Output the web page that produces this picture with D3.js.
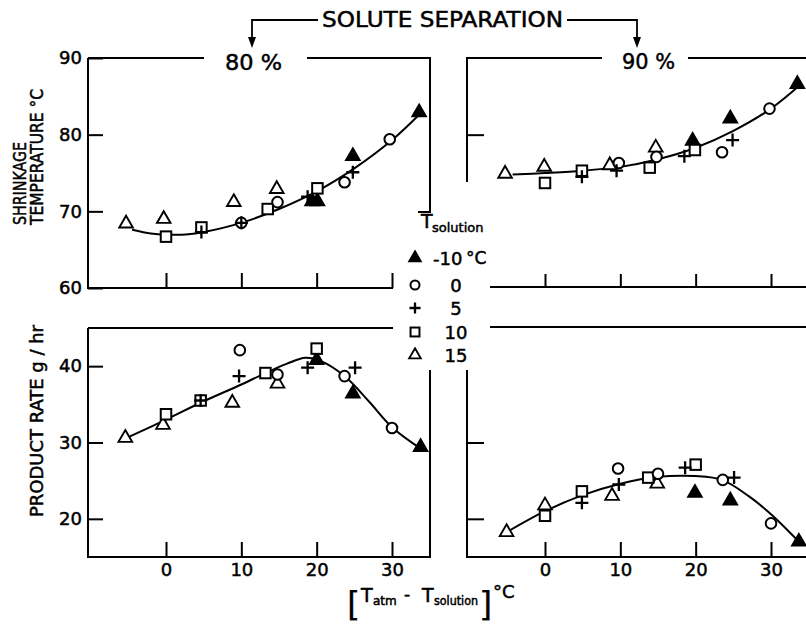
<!DOCTYPE html>
<html><head><meta charset="utf-8">
<script src="https://cdn.jsdelivr.net/npm/d3@7"></script>
<style>
body{margin:0;background:#fff}
svg{display:block;background:#fff}
text{font-family:"DejaVu Sans",sans-serif;fill:#000;stroke:#000;stroke-width:0.5px}
</style>
</head><body>
<svg id="chart" width="806" height="627"></svg>
<script>
// ---------- data ----------
const xTicks = [0, 10, 20, 30];
const shrinkTicks = [60, 70, 80, 90];
const rateTicks = [20, 30, 40];
const legendKeys = ["-10", "0", "5", "10", "15"];
const legendLabels = ["-10", "0", "5", "10", "15"];
const panelTitles = ["80 %", "90 %"];

// [T_solution, T_atm - T_solution, value]
const shrink80 = [
  ["15",-5.3,68.4],["15",-0.3,69.0],["10",0,66.7],["10",4.7,67.9],["5",4.7,67.3],
  ["15",9.0,71.2],["0",10,68.5],["5",10,68.5],["10",13.5,70.3],["15",14.7,72.9],
  ["0",14.8,71.2],["5",18.8,71.9],["-10",19.4,71.3],["-10",20.1,71.3],["10",20.1,73.0],
  ["0",23.7,73.8],["5",24.8,75.1],["-10",24.8,77.2],["0",29.7,79.4],["-10",33.6,82.9]
];
const shrink80Curve = [[-4.5,67.6],[-2,67.1],[0,66.95],[3,67.0],[5,67.3],[10,68.5],[15,70.3],[20,72.6],[25,75.6],[30,79.3],[34,83.0]];

const shrink90 = [
  ["15",-5.3,74.9],["15",-0.1,75.8],["10",0,73.7],["10",4.9,75.3],["5",4.9,74.5],
  ["15",8.6,76.0],["0",9.8,76.3],["5",9.5,75.3],["10",13.9,75.7],["15",14.7,78.3],
  ["0",14.8,77.1],["5",18.5,77.2],["-10",19.6,79.2],["10",19.9,78.0],["0",23.5,77.7],
  ["5",24.9,79.3],["-10",24.6,82.1],["0",29.8,83.4],["-10",33.5,86.6]
];
const shrink90Curve = [[-4.3,74.8],[0,75.0],[5,75.3],[10,75.8],[15,76.8],[20,78.3],[25,80.5],[30,83.4],[34,86.6]];

const rate80 = [
  ["15",-5.4,30.6],["15",-0.4,32.3],["10",0,33.7],["10",4.6,35.5],["5",4.6,35.5],
  ["15",8.8,35.2],["0",9.8,42.1],["5",9.7,38.7],["10",13.2,39.1],["0",14.8,38.9],
  ["15",14.8,37.7],["5",18.8,39.8],["10",20,42.3],["-10",20,40.8],["0",23.7,38.7],
  ["5",25.1,39.8],["-10",24.8,36.4],["0",30,31.9],["-10",33.8,29.4]
];
const rate80Curve = [[-5,30.7],[0,33.0],[5,35.4],[10,37.6],[13,39.0],[16,40.3],[18.5,41.1],[20.5,40.7],[23.7,38.7],[27,35.3],[30,32.0],[33.8,29.2]];

const rate90 = [
  ["15",-5.1,18.25],["15",0,21.75],["10",0,20.4],["10",4.9,23.6],["5",4.9,22.1],
  ["15",8.9,23.0],["0",9.7,26.6],["5",9.8,24.5],["10",13.7,25.4],["0",15,25.9],
  ["15",14.9,24.6],["5",18.6,26.7],["10",20,27.1],["-10",19.9,23.4],["0",23.6,25.1],
  ["5",25.1,25.4],["-10",24.6,22.4],["0",30,19.4],["-10",33.7,17.0]
];
const rate90Curve = [[-5,18.3],[0,21.0],[5,23.1],[10,24.6],[15,25.5],[20,25.6],[23.5,25.1],[27,23.0],[30,20.6],[33.7,17.0]];

// ---------- scales ----------
const svg = d3.select("#chart");
const xL = d3.scaleLinear().domain([0, 30]).range([166, 392]);
const xR = d3.scaleLinear().domain([0, 30]).range([545, 771]);
const yTop = d3.scaleLinear().domain([60, 90]).range([288, 58]);
const yBot = d3.scaleLinear().domain([15, 45]).range([557, 328]);

const ink = "#000";
const SW = 2;

// ---------- frames ----------
const frame = svg.append("g").attr("fill", "none").attr("stroke", ink).attr("stroke-width", SW);
[
  "M88,58V288H393", "M88,58H204", "M307,58H430V213", "M418,212H430",
  "M467,182V58H602", "M688,58H806", "M490,287H806",
  "M88,328H393", "M88,328V557H430V370",
  "M490,327H806", "M467,370V557H806"
].forEach(d => frame.append("path").attr("d", d));

// ---------- axes ----------
function styleAxis(g, fs) {
  g.attr("font-family", null).attr("font-size", null);
  g.select(".domain").remove();
  g.selectAll(".tick line").attr("stroke", ink).attr("stroke-width", SW);
  g.selectAll(".tick text").style("font-size", fs + "px").attr("fill", ink);
}
svg.append("g").attr("transform", "translate(88,0)")
  .call(d3.axisLeft(yTop).tickValues(shrinkTicks).tickSize(-15).tickPadding(6))
  .call(g => styleAxis(g, 18));
svg.append("g").attr("transform", "translate(88,0)")
  .call(d3.axisLeft(yBot).tickValues(rateTicks).tickSize(-15).tickPadding(6))
  .call(g => styleAxis(g, 18));
svg.append("g").attr("transform", "translate(467,0)")
  .call(d3.axisLeft(yTop).tickValues([80]).tickSize(-17).tickFormat(""))
  .call(g => styleAxis(g, 18));
svg.append("g").attr("transform", "translate(467,0)")
  .call(d3.axisLeft(yBot).tickValues([20, 30]).tickSize(-17).tickFormat(""))
  .call(g => styleAxis(g, 18));
svg.append("g").attr("transform", "translate(0,288)")
  .call(d3.axisBottom(xL).tickValues(xTicks).tickSize(-15).tickFormat(""))
  .call(g => styleAxis(g, 18));
svg.append("g").attr("transform", "translate(0,287)")
  .call(d3.axisBottom(xR).tickValues(xTicks).tickSize(-13).tickFormat(""))
  .call(g => styleAxis(g, 18));
svg.append("g").attr("transform", "translate(0,557)")
  .call(d3.axisBottom(xL).tickValues(xTicks).tickSize(-15).tickPadding(6))
  .call(g => styleAxis(g, 18));
svg.append("g").attr("transform", "translate(0,557)")
  .call(d3.axisBottom(xR).tickValues(xTicks).tickSize(-15).tickPadding(6))
  .call(g => styleAxis(g, 18));

// ---------- markers ----------
const triArea = 80, circR = 5.3, sq = 10.5, plus = 6.5;
function drawMarker(g, key, cx, cy, k = 1) {
  if (key === "-10" || key === "15") {
    g.append("path")
      .attr("d", d3.symbol(d3.symbolTriangle, triArea * k * k)())
      .attr("transform", `translate(${cx},${cy})`)
      .attr("fill", key === "-10" ? ink : "#fff")
      .attr("stroke", ink).attr("stroke-width", 1.9).attr("stroke-linejoin", "miter");
  } else if (key === "0") {
    g.append("circle").attr("cx", cx).attr("cy", cy).attr("r", circR * k)
      .attr("fill", "#fff").attr("stroke", ink).attr("stroke-width", 2);
  } else if (key === "10") {
    const s = sq * k;
    g.append("rect").attr("x", cx - s / 2).attr("y", cy - s / 2).attr("width", s).attr("height", s)
      .attr("fill", "#fff").attr("stroke", ink).attr("stroke-width", 2);
  } else if (key === "5") {
    const p = plus * k;
    g.append("path").attr("d", `M${cx - p},${cy}H${cx + p}M${cx},${cy - p}V${cy + p}`)
      .attr("fill", "none").attr("stroke", ink).attr("stroke-width", 2.3);
  }
}

function panel(pts, curve, x, y) {
  const g = svg.append("g");
  const line = d3.line().x(d => x(d[0])).y(d => y(d[1])).curve(d3.curveCatmullRom.alpha(0.5));
  g.append("path").datum(curve).attr("d", line)
    .attr("fill", "none").attr("stroke", ink).attr("stroke-width", SW);
  const order = {"-10": 0, "15": 1, "10": 2, "0": 3, "5": 4};
  pts.slice().sort((a, b) => order[a[0]] - order[b[0]])
    .forEach(p => drawMarker(g, p[0], x(p[1]), y(p[2])));
}
panel(shrink80, shrink80Curve, xL, yTop);
panel(shrink90, shrink90Curve, xR, yTop);
panel(rate80, rate80Curve, xL, yBot);
panel(rate90, rate90Curve, xR, yBot);

// ---------- titles ----------
svg.append("text").attr("x", 322).attr("y", 27).attr("textLength", 241)
  .attr("lengthAdjust", "spacingAndGlyphs").style("font-size", "21px").text("SOLUTE SEPARATION");
const arr = svg.append("g").attr("fill", "none").attr("stroke", ink).attr("stroke-width", 1.8);
arr.append("path").attr("d", "M318,20H252V40");
arr.append("path").attr("d", "M567,20H637V40");
svg.append("path").attr("d", "M248,37L256,37L252,48Z").attr("fill", ink);
svg.append("path").attr("d", "M633,37L641,37L637,48Z").attr("fill", ink);

svg.append("text").attr("x", 225).attr("y", 70).attr("textLength", 57)
  .attr("lengthAdjust", "spacingAndGlyphs").style("font-size", "22px").text(panelTitles[0]);
svg.append("text").attr("x", 622).attr("y", 69).attr("textLength", 53)
  .attr("lengthAdjust", "spacingAndGlyphs").style("font-size", "22px").text(panelTitles[1]);

// y-axis titles
svg.append("text").attr("transform", "translate(26,225) rotate(-90)")
  .attr("textLength", 83).attr("lengthAdjust", "spacingAndGlyphs")
  .style("font-size", "17px").text("SHRINKAGE");
svg.append("text").attr("transform", "translate(43,225) rotate(-90)")
  .attr("textLength", 136).attr("lengthAdjust", "spacingAndGlyphs")
  .style("font-size", "17px").text("TEMPERATURE °C");
svg.append("text").attr("transform", "translate(43,421) rotate(-90)")
  .attr("text-anchor", "middle").attr("textLength", 192).attr("lengthAdjust", "spacingAndGlyphs")
  .style("font-size", "17px").text("PRODUCT RATE g / hr");

// x-axis title
const xt = svg.append("text").attr("y", 602);
xt.append("tspan").attr("x", 347).attr("y", 616).style("font-size", "34px").style("stroke-width", "0.2px").text("[");
xt.append("tspan").attr("x", 361).attr("y", 602).style("font-size", "19px").text("T");
xt.append("tspan").attr("x", 373).attr("y", 605).style("font-size", "12px").text("atm");
xt.append("tspan").attr("x", 404).attr("y", 600).style("font-size", "17px").text("-");
xt.append("tspan").attr("x", 422).attr("y", 602).style("font-size", "19px").text("T");
xt.append("tspan").attr("x", 434).attr("y", 605).attr("textLength", 44).attr("lengthAdjust", "spacingAndGlyphs")
  .style("font-size", "12px").text("solution");
xt.append("tspan").attr("x", 479).attr("y", 616).style("font-size", "34px").style("stroke-width", "0.2px").text("]");
xt.append("tspan").attr("x", 493).attr("y", 598).style("font-size", "18px").text("°C");

// ---------- legend ----------
const lt = svg.append("text");
lt.append("tspan").attr("x", 421).attr("y", 228).style("font-size", "19px").text("T");
lt.append("tspan").attr("x", 432).attr("y", 232).style("font-size", "13px").text("solution");
const legY = [258, 285, 308, 332, 355];
legendKeys.forEach((k, i) => {
  const lg = svg.append("g");
  drawMarker(lg, k, 415, legY[i], 0.85);
  if (i === 0) {
    lg.append("text").attr("x", 433).attr("y", legY[i] + 7).style("font-size", "18px").text(legendLabels[i]);
    lg.append("text").attr("x", 466).attr("y", legY[i] + 6).style("font-size", "17px").text("°C");
  } else {
    lg.append("text").attr("x", 456).attr("y", legY[i] + 7).attr("text-anchor", "middle")
      .style("font-size", "18px").text(legendLabels[i]);
  }
});
</script>
</body></html>
